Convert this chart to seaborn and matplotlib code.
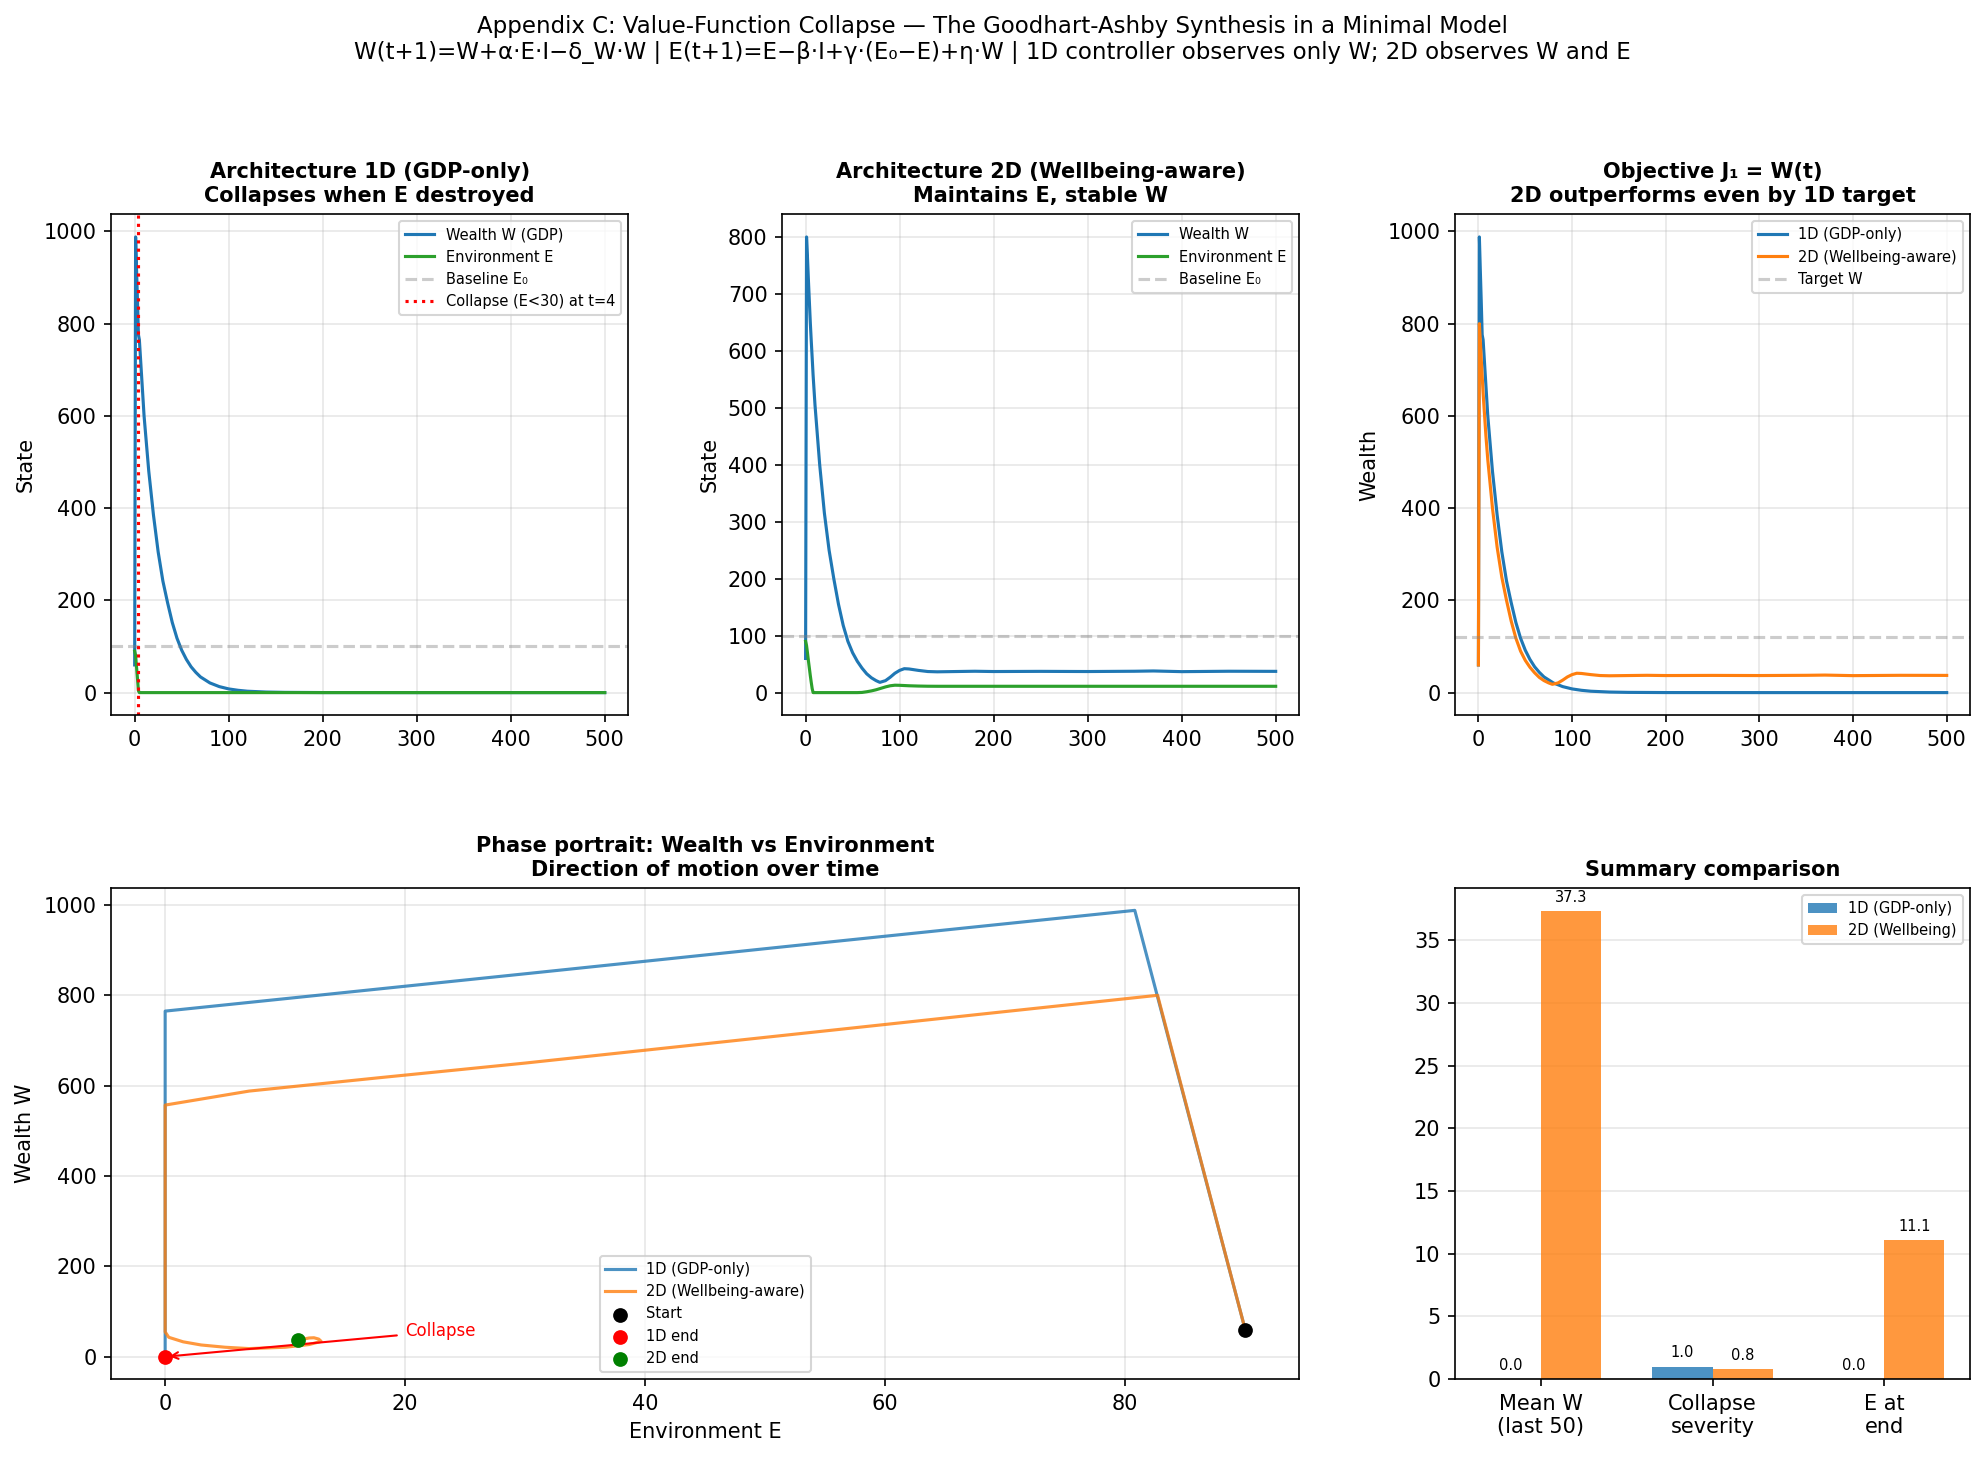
import seaborn as sns
import pandas as pd
import matplotlib
matplotlib.use("Agg")
import matplotlib.pyplot as plt

# --- readings from the reference (sampled time steps) ---
t_1d = [0, 1, 2, 3, 4, 5, 10, 15, 20, 25, 30, 35, 40, 45, 50, 55, 60, 65, 70,
        80, 90, 100, 110, 120, 140, 160, 200, 300, 400, 500]
W_1d = [60, 988, 917, 849, 776, 765, 600, 480, 385, 305, 242, 195, 152, 118, 92,
        72, 56, 44, 34, 21, 13, 8, 5, 3, 1.2, 0.5, 0.1, 0, 0, 0]
E_1d = [90, 80.8, 55, 30.5, 4, 0, 0, 0, 0, 0, 0, 0, 0, 0, 0, 0, 0, 0, 0,
        0, 0, 0, 0, 0, 0, 0, 0, 0, 0, 0]

t_2d = [0, 1, 2, 3, 4, 5, 6, 7, 8, 10, 15, 20, 25, 30, 35, 40, 45, 50, 55, 60,
        65, 70, 75, 79, 85, 90, 95, 100, 105, 110, 120, 130, 140, 160, 180, 200,
        250, 300, 350, 370, 400, 450, 500]
W_2d = [60, 800, 764, 724, 687, 650, 618, 588, 557, 505, 400, 315, 250, 200, 155,
        118, 90, 70, 55, 43, 33, 26, 21, 18, 21, 27, 34, 39, 42, 41.5, 39, 37,
        36.5, 37, 37.5, 37, 37.3, 37, 37.5, 38, 36.8, 37.5, 37.3]
E_2d = [90, 82.7, 70, 56, 43, 30, 18, 7, 0, 0, 0, 0, 0, 0, 0, 0, 0, 0, 0, 0.3,
        1.5, 3, 5, 7, 10, 12, 13, 12.8, 12.4, 12, 11.5, 11.2, 11.1, 11.1, 11.1,
        11.1, 11.1, 11.1, 11.1, 11.1, 11.1, 11.1, 11.1]

E0 = 100
target_W = 120
collapse_t = 4

metrics = ["Mean W\n(last 50)", "Collapse\nseverity", "E at\nend"]
vals_1d = [0.0, 1.0, 0.0]
vals_2d = [37.3, 0.8, 11.1]

fig = plt.figure(figsize=(1985 / 150, 1457 / 150), dpi=150)

# axes placement (figure fractions)
ax1 = fig.add_axes([0.056, 0.509, 0.2605, 0.344])
ax2 = fig.add_axes([0.394, 0.509, 0.2605, 0.344])
ax3 = fig.add_axes([0.733, 0.509, 0.2595, 0.344])
ax4 = fig.add_axes([0.056, 0.0535, 0.5985, 0.337])
ax5 = fig.add_axes([0.733, 0.0535, 0.2595, 0.337])

blue, orange, green = "#1f77b4", "#ff7f0e", "#2ca02c"

# panel 1
sns.lineplot(x=t_1d, y=W_1d, ax=ax1, color=blue, lw=1.5, label="Wealth W (GDP)")
sns.lineplot(x=t_1d, y=E_1d, ax=ax1, color=green, lw=1.5, label="Environment E")
ax1.axhline(E0, color="gray", ls="--", alpha=0.4, label="Baseline E₀")
ax1.axvline(collapse_t, color="red", ls=":", lw=1.5, label=f"Collapse (E<30) at t={collapse_t}")
ax1.set_title("Architecture 1D (GDP-only)\nCollapses when E destroyed", fontsize=10, fontweight="bold")
ax1.set_ylabel("State")
ax1.legend(fontsize=7, loc="upper right")

# panel 2
sns.lineplot(x=t_2d, y=W_2d, ax=ax2, color=blue, lw=1.5, label="Wealth W")
sns.lineplot(x=t_2d, y=E_2d, ax=ax2, color=green, lw=1.5, label="Environment E")
ax2.axhline(E0, color="gray", ls="--", alpha=0.4, label="Baseline E₀")
ax2.set_title("Architecture 2D (Wellbeing-aware)\nMaintains E, stable W", fontsize=10, fontweight="bold")
ax2.set_ylabel("State")
ax2.legend(fontsize=7, loc="upper right")

# panel 3
sns.lineplot(x=t_1d, y=W_1d, ax=ax3, color=blue, lw=1.5, label="1D (GDP-only)")
sns.lineplot(x=t_2d, y=W_2d, ax=ax3, color=orange, lw=1.5, label="2D (Wellbeing-aware)")
ax3.axhline(target_W, color="gray", ls="--", alpha=0.4, label="Target W")
ax3.set_title("Objective J₁ = W(t)\n2D outperforms even by 1D target", fontsize=10, fontweight="bold")
ax3.set_ylabel("Wealth")
ax3.legend(fontsize=7, loc="upper right")

for ax in (ax1, ax2, ax3):
    ax.set_xlabel("")
    ax.grid(True, alpha=0.3)

# phase portrait
sns.lineplot(x=E_1d, y=W_1d, ax=ax4, sort=False, estimator=None, color=blue,
             lw=1.5, alpha=0.8, label="1D (GDP-only)")
sns.lineplot(x=E_2d, y=W_2d, ax=ax4, sort=False, estimator=None, color=orange,
             lw=1.5, alpha=0.8, label="2D (Wellbeing-aware)")
sns.scatterplot(x=[E_1d[0]], y=[W_1d[0]], ax=ax4, color="black", s=50, linewidth=0, zorder=5, label="Start")
sns.scatterplot(x=[E_1d[-1]], y=[W_1d[-1]], ax=ax4, color="red", s=50, linewidth=0, zorder=5, label="1D end")
sns.scatterplot(x=[E_2d[-1]], y=[W_2d[-1]], ax=ax4, color="green", s=50, linewidth=0, zorder=5, label="2D end")
ax4.annotate("Collapse", xy=(E_1d[-1], W_1d[-1]), xytext=(20, 45), color="red", fontsize=8,
             arrowprops=dict(arrowstyle="->", color="red"))
ax4.set_title("Phase portrait: Wealth vs Environment\nDirection of motion over time", fontsize=10, fontweight="bold")
ax4.set_xlabel("Environment E")
ax4.set_ylabel("Wealth W")
ax4.legend(fontsize=7, loc="lower center")
ax4.grid(True, alpha=0.3)

# summary bars
df = pd.DataFrame({
    "metric": metrics * 2,
    "value": vals_1d + vals_2d,
    "arch": ["1D (GDP-only)"] * 3 + ["2D (Wellbeing)"] * 3,
})
sns.barplot(data=df, x="metric", y="value", hue="arch", ax=ax5, width=0.7,
            palette=[blue, orange], saturation=1, alpha=0.8)
for c in ax5.containers:
    ax5.bar_label(c, fmt="%.1f", fontsize=7, padding=3)
ax5.set_title("Summary comparison", fontsize=10, fontweight="bold")
ax5.set_xlabel("")
ax5.set_ylabel("")
ax5.legend(fontsize=7, loc="upper right")
ax5.grid(True, alpha=0.3, axis="y")
ax5.set_axisbelow(True)

fig.suptitle("Appendix C: Value-Function Collapse — The Goodhart-Ashby Synthesis in a Minimal Model\n"
             "W(t+1)=W+α·E·I−δ_W·W | E(t+1)=E−β·I+γ·(E₀−E)+η·W | 1D controller observes only W; 2D observes W and E",
             fontsize=11, y=0.99)

fig.savefig("out.png", dpi=150)
